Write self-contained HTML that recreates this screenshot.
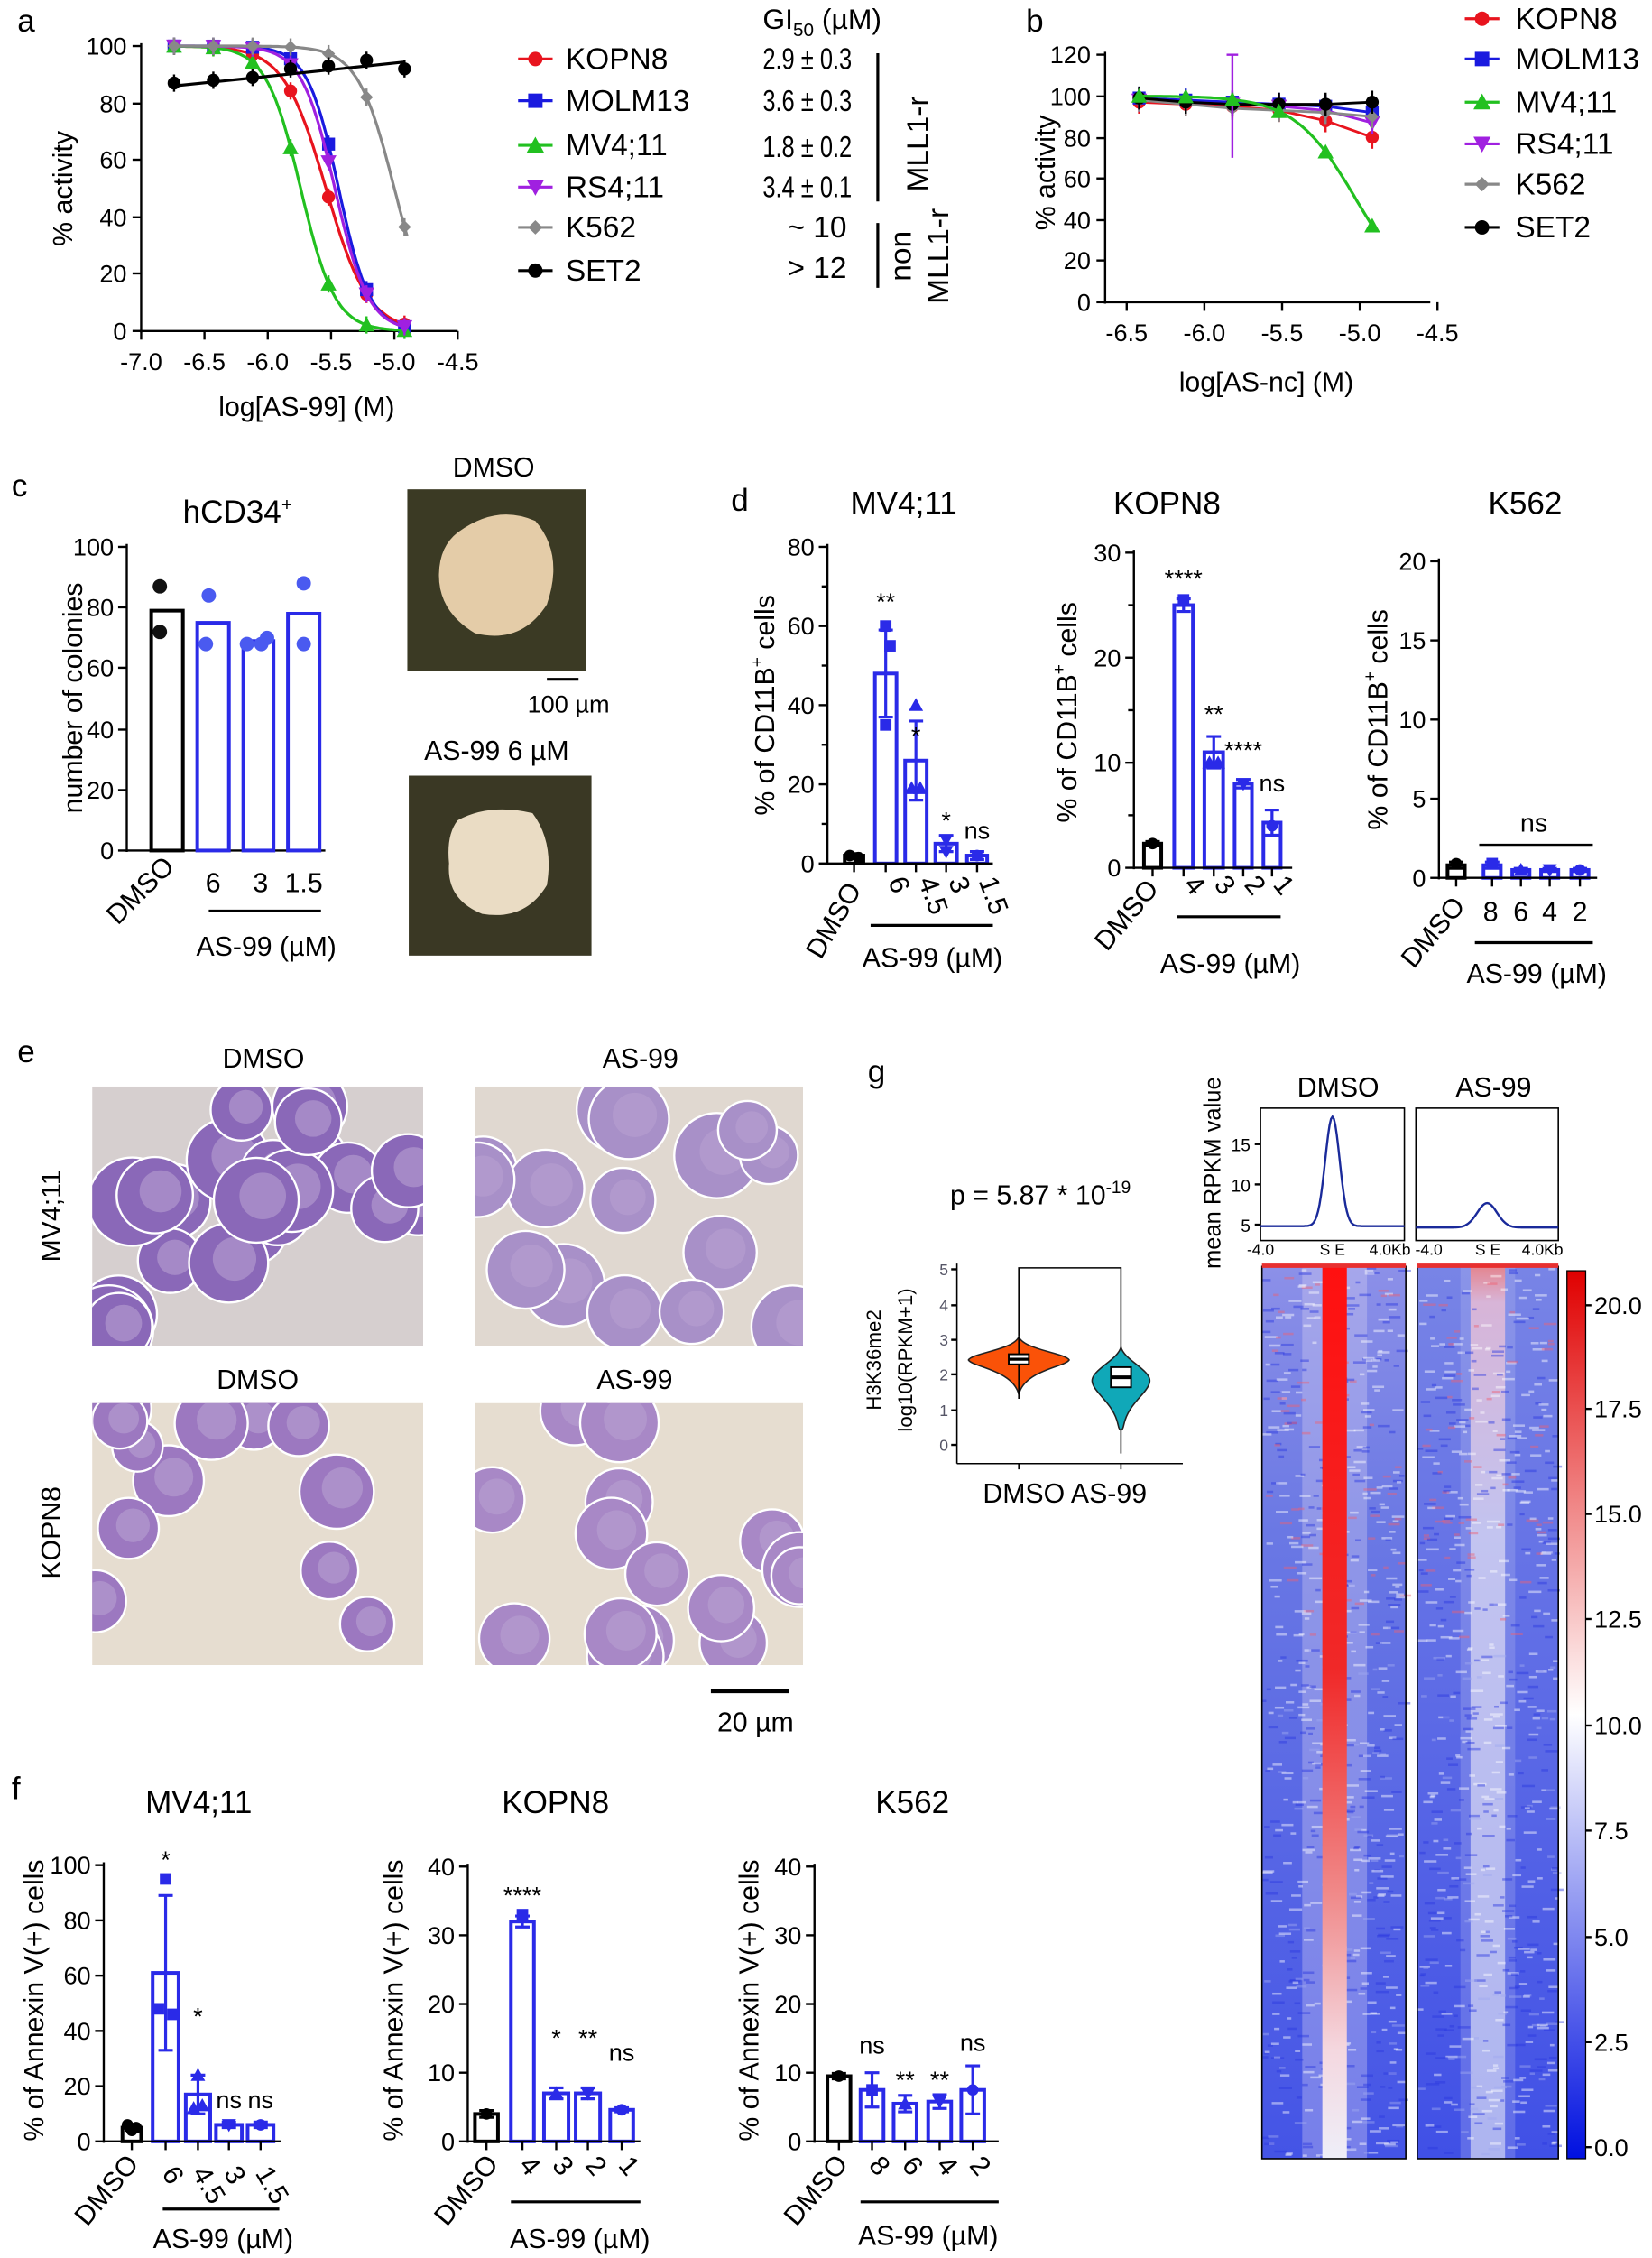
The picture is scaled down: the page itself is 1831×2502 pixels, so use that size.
<!DOCTYPE html>
<html><head><meta charset="utf-8"><style>
html,body{margin:0;padding:0;background:#fff;width:1831px;height:2502px;overflow:hidden}
svg{display:block}
text{font-family:"Liberation Sans",Arial,sans-serif}
</style></head><body>
<svg id="s" xmlns="http://www.w3.org/2000/svg" width="1831" height="2502" viewBox="0 0 1148 1569">
<defs>
<linearGradient id="hm1" x1="0" y1="0" x2="0" y2="1">
<stop offset="0" stop-color="#ff1010"/><stop offset="0.45" stop-color="#f02828"/><stop offset="0.7" stop-color="#f08888"/><stop offset="0.88" stop-color="#f4d8e0"/><stop offset="1" stop-color="#eeeef8"/></linearGradient>
<linearGradient id="bg1" x1="0" y1="0" x2="0" y2="1">
<stop offset="0" stop-color="#8c90e8"/><stop offset="0.3" stop-color="#6a78e4"/><stop offset="1" stop-color="#4454e6"/></linearGradient>
<linearGradient id="bg2" x1="0" y1="0" x2="0" y2="1">
<stop offset="0" stop-color="#7884e6"/><stop offset="1" stop-color="#4050e6"/></linearGradient>
<linearGradient id="hm2" x1="0" y1="0" x2="0" y2="1">
<stop offset="0" stop-color="#f07070"/><stop offset="0.04" stop-color="#e0b0d0"/><stop offset="0.3" stop-color="#c4c4f0"/><stop offset="1" stop-color="#a8b0f0"/></linearGradient>
<linearGradient id="cb" x1="0" y1="0" x2="0" y2="1">
<stop offset="0" stop-color="#e00000"/><stop offset="0.5" stop-color="#ffffff"/><stop offset="1" stop-color="#0010e0"/></linearGradient>
</defs>
</svg>
<script>
var o='';
function T(x,y,s,sz,anc,rot,fill,extra){o+='<text x="'+x+'" y="'+y+'" font-size="'+(sz||18)+'" text-anchor="'+(anc||'start')+'"'+(rot?' transform="rotate('+rot+' '+x+' '+y+')"':'')+' fill="'+(fill||'#000')+'"'+(extra||'')+'>'+s+'</text>';}
function L(x1,y1,x2,y2,c,w){o+='<line x1="'+x1+'" y1="'+y1+'" x2="'+x2+'" y2="'+y2+'" stroke="'+(c||'#000')+'" stroke-width="'+(w||1.5)+'"/>';}
function R(x,y,w,h,f,s,sw){o+='<rect x="'+x+'" y="'+y+'" width="'+w+'" height="'+h+'" fill="'+(f||'none')+'"'+(s?' stroke="'+s+'" stroke-width="'+(sw||1.5)+'"':'')+'/>';}
function C(x,y,r,f){o+='<circle cx="'+x+'" cy="'+y+'" r="'+r+'" fill="'+f+'"/>';}
function M(t,x,y,c,s){s=s||5;
 if(t=='o')C(x,y,s,c);
 else if(t=='s')R(x-s,y-s,2*s,2*s,c);
 else if(t=='^')o+='<polygon points="'+x+','+(y-s-1)+' '+(x-s-1)+','+(y+s)+' '+(x+s+1)+','+(y+s)+'" fill="'+c+'"/>';
 else if(t=='v')o+='<polygon points="'+x+','+(y+s+1)+' '+(x-s-1)+','+(y-s)+' '+(x+s+1)+','+(y-s)+'" fill="'+c+'"/>';
 else if(t=='d')o+='<polygon points="'+x+','+(y-s)+' '+(x-s)+','+y+' '+x+','+(y+s)+' '+(x+s)+','+y+'" fill="'+c+'"/>';}
function P(d,c,w){o+='<path d="'+d+'" fill="none" stroke="'+c+'" stroke-width="'+(w||2)+'"/>';}
var RED='#e8141e',BLU='#1a1adf',GRN='#22c020',PUR='#a020e0',GRY='#888',BLK='#000',B2='#2a2ae8';
var xs=[-6.74,-6.43,-6.12,-5.82,-5.52,-5.22,-4.92];
function sig(x,ic,h){return 100/(1+Math.pow(10,h*(x-ic)));}
var seed=7;function rnd(){seed=(seed*9301+49297)%233280;return seed/233280;}
// Panel a
T(12,22,'a',22);
L(98,30,98,231);L(97,230,318,230);
[[100,32],[80,72],[60,111],[40,151],[20,190],[0,230]].forEach(function(t){L(92,t[1],98,t[1]);T(88,t[1]+6,t[0],17,'end');});
[-7.0,-6.5,-6.0,-5.5,-5.0,-4.5].forEach(function(v,i){var x=98+i*44;L(x,230,x,236);T(x,257,v.toFixed(1),17,'middle');});
T(213,289,'log[AS-99] (M)',19,'middle');T(50,131,'% activity',19,'middle',-90);
function ax(x){return 98+(x+7)*88;} function ay(y){return 230-y*1.98;}
var cur=[[RED,'o',-5.54,2.6],[BLU,'s',-5.44,3.5],[GRN,'^',-5.74,3.2],[PUR,'v',-5.47,3.3],[GRY,'d',-5.0,3]];
cur.forEach(function(c){var d='';for(var x=-6.74;x<=-4.9;x+=0.02){d+=(d?'L':'M')+ax(x).toFixed(1)+','+ay(sig(x,c[2],c[3])).toFixed(1);}P(d,c[0],2);
 xs.forEach(function(x){var y=sig(x,c[2],c[3]);M(c[1],ax(x),ay(y),c[0],4.5);L(ax(x),ay(y)-6,ax(x),ay(y)+6,c[0],1.5);});});
var set2=[87,88,89,92,93,95,92];var d='';xs.forEach(function(x,i){d+=(i?'L':'M')+ax(x)+','+ay(86+i*1.4);});P(d,BLK,2);
xs.forEach(function(x,i){M('o',ax(x),ay(set2[i]),BLK,4.5);L(ax(x),ay(set2[i])-6,ax(x),ay(set2[i])+6,BLK);});
var lg=[['KOPN8',RED,'o',48],['MOLM13',BLU,'s',77],['MV4;11',GRN,'^',108],['RS4;11',PUR,'v',137],['K562',GRY,'d',165],['SET2',BLK,'o',195]];
lg.forEach(function(l){L(360,l[3]-7,384,l[3]-7,l[1],2);M(l[2],372,l[3]-7,l[1],5);T(393,l[3],l[0],21);});
T(530,20,'GI<tspan font-size="13" dy="5">50</tspan><tspan dy="-5"> (µM)</tspan>',20,'start');
[['2.9 ± 0.3',48,530],['3.6 ± 0.3',77,530],['1.8 ± 0.2',109,530],['3.4 ± 0.1',137,530]].forEach(function(v){T(v[2],v[1],v[0],21,'start',0,'#000',' textLength="62" lengthAdjust="spacingAndGlyphs"');});
T(547,165,'~ 10',21);T(547,193,'&gt; 12',21);
L(610,37,610,140,BLK,2);T(645,100,'MLL1-r',21,'middle',-90);L(610,155,610,200,BLK,2);T(633,178,'non',21,'middle',-90);T(659,178,'MLL1-r',21,'middle',-90);
// Panel b
T(713,22,'b',22);
L(768,36,768,211);L(767,210,994,210);
[[120,38],[100,67],[80,96],[60,124],[40,153],[20,181],[0,210]].forEach(function(t){L(762,t[1],768,t[1]);T(758,t[1]+6,t[0],17,'end');});
function bx(x){return 783+(x+6.5)*108;} function by(y){return 210-y*1.433;}
[-6.5,-6.0,-5.5,-5.0,-4.5].forEach(function(v){var x=bx(v);L(x,210,x,216);T(x,237,v.toFixed(1),17,'middle');});
T(880,272,'log[AS-nc] (M)',19,'middle');T(733,120,'% activity',19,'middle',-90);
var xb=[-6.42,-6.12,-5.82,-5.52,-5.22,-4.92];
var bd=[[RED,'o',[97,96,95,93,88,80]],[BLU,'s',[99,98,97,96,95,92]],[PUR,'v',[98,97,96,95,93,87]],[GRY,'d',[98,96,94,93,92,90]],[BLK,'o',[99,97,96,96,96,97]]];
bd.forEach(function(c){var d='';xb.forEach(function(x,i){d+=(i?'L':'M')+bx(x)+','+by(c[2][i]);});P(d,c[0],1.8);xb.forEach(function(x,i){M(c[1],bx(x),by(c[2][i]),c[0],4.5);L(bx(x),by(c[2][i])-8,bx(x),by(c[2][i])+8,c[0]);});});
L(bx(-5.82),by(120),bx(-5.82),by(70),PUR,1.5);L(bx(-5.82)-4,by(120),bx(-5.82)+4,by(120),PUR);
d='';for(var x=-6.42;x<=-4.9;x+=0.02){d+=(d?'L':'M')+bx(x).toFixed(1)+','+by(sig(x,-5.025,2.2)).toFixed(1);}P(d,GRN,2);
xb.forEach(function(x){M('^',bx(x),by(sig(x,-5.025,2.2)),GRN,4.5);});
var lgb=[['KOPN8',RED,'o',20],['MOLM13',BLU,'s',48],['MV4;11',GRN,'^',78],['RS4;11',PUR,'v',107],['K562',GRY,'d',135],['SET2',BLK,'o',165]];
lgb.forEach(function(l){L(1018,l[3]-7,1042,l[3]-7,l[1],2);M(l[2],1030,l[3]-7,l[1],5);T(1053,l[3],l[0],21);});
// Bar chart helper
function bars(cfg){var a=cfg.ax,y0=cfg.y0,yt=cfg.yt,vm=cfg.vm;L(a,yt-2,a,y0+1);
 cfg.ticks.forEach(function(v){var y=y0-(v/vm)*(y0-yt);L(a-6,y,a,y);T(a-9,y+6,v,17,'end');});
 if(cfg.minor)cfg.minor.forEach(function(v){var y=y0-(v/vm)*(y0-yt);L(a-4,y,a,y);});
 cfg.b.forEach(function(b){var col=b[3]||B2;var yv=y0-(b[2]/vm)*(y0-yt);R(b[0],yv,b[1]-b[0],y0-yv,'#fff',col,2.5);
  var cx=(b[0]+b[1])/2;if(b[4]){var e=b[4]/vm*(y0-yt);L(cx,yv-e,cx,Math.min(y0,yv+e),col,2);L(cx-5,yv-e,cx+5,yv-e,col,2);L(cx-5,Math.min(y0,yv+e),cx+5,Math.min(y0,yv+e),col,2);}
  if(b[5])b[5].forEach(function(p){M(b[6]||'o',cx+p[0],y0-(p[1]/vm)*(y0-yt),col,4);});
  if(b[7])T(cx,b[7][1],b[7][0],17,'middle');
  L(cx,y0,cx,y0+6,BLK,1.5);
 });
 L(a,y0,cfg.xe,y0,BLK,1.5);}
// Panel c
T(8,345,'c',22);T(165,363,'hCD34<tspan font-size="13" dy="-8">+</tspan>',22,'middle');
L(88,378,88,592);[[100,380],[80,422],[60,464],[40,507],[20,549],[0,591]].forEach(function(t){L(82,t[1],88,t[1]);T(79,t[1]+6,t[0],17,'end');});
L(88,591,226,591);
function cy(v){return 591-v*2.11;}
[[105,127,79,BLK,[[-5,87],[-5,72]]],[137,159,75,B2,[[-3,84],[-5,68]]],[169,190,69,B2,[[-8,68],[2,68],[6,70]]],[200,222,78,B2,[[0,88],[0,68]]]].forEach(function(b){R(b[0],cy(b[2]),b[1]-b[0],591-cy(b[2]),'none',b[3],2.5);b[4].forEach(function(p){C((b[0]+b[1])/2+p[0],cy(p[1]),5,b[3]==BLK?'#111':'#4a5af0');});});
T(122,603,'DMSO',19,'end',-45);T(148,620,'6',19,'middle');T(181,620,'3',19,'middle');T(211,620,'1.5',19,'middle');
L(145,633,223,633,BLK,2);T(185,664,'AS-99 (µM)',19,'middle');T(57,485,'number of colonies',19,'middle',-90);
T(343,331,'DMSO',19,'middle');R(283,340,124,126,'#3b3a24');o+='<path d="M318,370 Q345,350 372,362 Q392,385 380,420 Q362,448 330,440 Q305,425 305,400 Q305,380 318,370Z" fill="#e4cca8"/>';
L(380,472,402,472,BLK,2);T(395,495,'100 µm',17,'middle');
T(345,528,'AS-99 6 µM',19,'middle');R(284,539,127,125,'#3a3824');o+='<path d="M318,570 Q340,558 370,565 Q385,585 380,615 Q365,640 335,635 Q310,625 312,600 Q310,580 318,570Z" fill="#eadcc4"/>';
// Panel d
T(508,355,'d',22);T(628,357,'MV4;11',22,'middle');T(811,357,'KOPN8',22,'middle');T(1060,357,'K562',22,'middle');
bars({ax:575,y0:600,yt:380,vm:80,ticks:[0,20,40,60,80],minor:[10,30,50,70],xe:690,b:[[587,600,2,BLK,0.5,[[-3,2],[3,1.5]]],[608,623,48,B2,11,[[0,60],[0,35],[3,55]],'s',['**',424]],[629,644,26,B2,10,[[0,40],[-3,19],[3,19]],'^',['*',517]],[650,665,5,B2,2,[[0,6],[0,3]],'v',['*',576]],[672,686,2,B2,1,[[0,2]],'o',['ns',583]]]});
T(538,490,'% of CD11B<tspan font-size="12" dy="-8">+</tspan><tspan dy="8"> cells</tspan>',19,'middle',-90);
T(599,618,'DMSO',19,'end',-60);T(617,612,'6',19,'start',70);T(638,612,'4.5',19,'start',70);T(659,612,'3',19,'start',70);T(680,612,'1.5',19,'start',70);
L(605,643,690,643,BLK,2);T(648,672,'AS-99 (µM)',19,'middle');
bars({ax:788,y0:603,yt:384,vm:30,ticks:[0,10,20,30],minor:[5,15,25],xe:898,b:[[795,807,2.3,BLK,0.2,[[0,2.3]]],[816,829,25,B2,0.6,[[0,25.5]],'s',['****',408]],[837,850,11,B2,1.5,[[-3,10],[3,10]],'^',['**',502]],[858,870,8,B2,0.4,[[0,8]],'v',['****',527]],[878,890,4.3,B2,1.2,[[0,4]],'o',['ns',550]]]});
T(748,495,'% of CD11B<tspan font-size="12" dy="-8">+</tspan><tspan dy="8"> cells</tspan>',19,'middle',-90);
T(806,618,'DMSO',19,'end',-50);T(822,615,'4',19,'start',50);T(843,615,'3',19,'start',50);T(864,615,'2',19,'start',50);T(884,615,'1',19,'start',50);
L(818,637,890,637,BLK,2);T(855,676,'AS-99 (µM)',19,'middle');
bars({ax:1000,y0:610,yt:390,vm:20,ticks:[0,5,10,15,20],xe:1110,b:[[1006,1018,0.8,BLK,0.2,[[0,0.9]]],[1031,1043,0.8,B2,0.2,[[0,0.9]],'s'],[1051,1063,0.5,B2,0.1,[[0,0.5]],'^'],[1071,1083,0.5,B2,0.1,[[0,0.5]],'v'],[1092,1104,0.5,B2,0.1,[[0,0.5]]]]});
L(1028,587,1107,587,BLK,1.5);T(1066,578,'ns',18,'middle');
T(964,500,'% of CD11B<tspan font-size="12" dy="-8">+</tspan><tspan dy="8"> cells</tspan>',19,'middle',-90);
T(1019,630,'DMSO',19,'end',-50);T(1036,640,'8',19,'middle');T(1057,640,'6',19,'middle');T(1077,640,'4',19,'middle');T(1098,640,'2',19,'middle');
L(1025,655,1107,655,BLK,2);T(1068,683,'AS-99 (µM)',19,'middle');
// Panel e
T(12,738,'e',22);T(183,742,'DMSO',19,'middle');T(445,742,'AS-99',19,'middle');T(179,965,'DMSO',19,'middle');T(441,965,'AS-99',19,'middle');
T(42,845,'MV4;11',19,'middle',-90);T(42,1065,'KOPN8',19,'middle',-90);
function micro(x,y,w,h,n,r,col,bg){R(x,y,w,h,bg);o+='<svg x="'+x+'" y="'+y+'" width="'+w+'" height="'+h+'">';for(var i=0;i<n;i++){var cx=rnd()*w,cy=rnd()*h,rr=r*(0.8+rnd()*0.4);o+='<circle cx="'+cx.toFixed(1)+'" cy="'+cy.toFixed(1)+'" r="'+rr.toFixed(1)+'" fill="'+col+'" stroke="#fff" stroke-width="1.5"/>';o+='<circle cx="'+(cx+rr*0.15).toFixed(1)+'" cy="'+(cy-rr*0.1).toFixed(1)+'" r="'+(rr*0.55).toFixed(1)+'" fill="#b8a0d0" opacity="0.6"/>';}o+='</svg>';}
micro(64,755,230,180,22,26,'#8a68b8','#d6cfcf');micro(330,755,228,180,16,25,'#a890c8','#e0d8d0');
micro(64,975,230,182,13,22,'#9c78c0','#e6ddd0');micro(330,975,228,182,15,23,'#a888c6','#e6ddd0');
L(494,1175,548,1175,BLK,3);T(525,1203,'20 µm',19,'middle');
// Panel g
T(603,752,'g',22);T(723,837,'p = 5.87 * 10<tspan font-size="12" dy="-8">-19</tspan>',19,'middle');
L(665,878,665,1017,BLK,1);L(665,1017,822,1017,BLK,1);
[[5,882],[4,907],[3,931],[2,955],[1,980],[0,1004]].forEach(function(t){L(661,t[1],665,t[1]);T(659,t[1]+4,t[0],11,'end','', '#556');});
L(708,1017,708,1021,BLK,1);L(779,1017,779,1021,BLK,1);
P('M708,929 L708,881 L779,881 L779,938',BLK,1);
L(779,993,779,1010,BLK,1);
o+='<path d="M708,929 C712,938 740,940 743,945 C740,950 712,952 708,969 C704,952 676,950 673,945 C676,940 704,938 708,929Z" fill="#fa5208" stroke="#222" stroke-width="1"/>';
L(708,929,708,972,BLK,1);R(701,941,14,7,'#fff','#000',1.2);L(701,944.5,715,944.5,BLK,2);
o+='<path d="M779,936 C781,945 800,952 799,960 C798,968 784,975 781,990 C780,995 778,995 777,990 C774,975 760,968 759,960 C758,952 777,945 779,936Z" fill="#10a8b8" stroke="#222" stroke-width="1"/>';
R(772,950,14,14,'#fff','#000',1.2);L(772,957,786,957,BLK,2.5);
T(740,1044,'DMSO AS-99',19,'middle');T(612,945,'H3K36me2',14,'middle',-90);T(634,945,'log10(RPKM+1)',14,'middle',-90);
T(848,815,'mean RPKM value',16,'middle',-90);T(930,762,'DMSO',19,'middle');T(1038,762,'AS-99',19,'middle');
R(876,770,100,92,'#fff','#000',1);R(984,770,99,92,'#fff','#000',1);
[[15,795],[10,823],[5,851]].forEach(function(t){L(872,t[1],876,t[1]);T(869,t[1]+5,t[0],12,'end');});
var dp='',dp2='';for(var i=0;i<=100;i++){var x=876+i,u=(i-50)/5;var v=852-76*Math.exp(-u*u/2);dp+=(i?'L':'M')+x+','+v.toFixed(1);var u2=(i-50)/7;dp2+=(i?'L':'M')+(984+i*0.99).toFixed(1)+','+(853-17*Math.exp(-u2*u2/2)).toFixed(1);}P(dp,'#1a2a9a',1.5);P(dp2,'#1a2a9a',1.5);
T(876,872,'-4.0',11,'middle');T(926,872,'S E',11,'middle');T(966,872,'4.0Kb',11,'middle');T(993,872,'-4.0',11,'middle');T(1034,872,'S E',11,'middle');T(1072,872,'4.0Kb',11,'middle');
// heatmaps
R(877,880,100,620,'url(#bg1)');
o+='<rect x="905" y="880" width="45" height="620" fill="#d8d0f0" opacity="0.35"/>';
R(985,880,98,620,'url(#bg2)');
R(1022,880,24,620,'url(#hm2)');
o+='<rect x="1015" y="880" width="38" height="620" fill="#c0c4f0" opacity="0.25"/>';
// texture
var tx='';for(var i=0;i<1400;i++){var hx=rnd()<0.5?877:985;var xx=hx+rnd()*96,yy=880+rnd()*618;var c=rnd();var col=c<0.45?'#ffffff':(c<0.8?'#2a38e0':(yy<1150?'#f06070':'#a0a8f0'));tx+='<rect x="'+xx.toFixed(1)+'" y="'+yy.toFixed(1)+'" width="'+(3+rnd()*6).toFixed(1)+'" height="1.6" fill="'+col+'" opacity="0.45"/>';}o+=tx;
R(919,880,17,620,'url(#hm1)');
R(877,880,100,620,'none','#000',1);R(985,880,98,620,'none','#000',1);
R(877,878,100,3,'#e83030');R(985,878,98,3,'#e83030');
R(1089,883,13,617,'url(#cb)','#000',0.8);
[['20.0',913],['17.5',985],['15.0',1058],['12.5',1131],['10.0',1205],['7.5',1278],['5.0',1352],['2.5',1425],['0.0',1498]].forEach(function(t){L(1102,t[1]-6,1106,t[1]-6);T(1108,t[1],t[0],17);});
// Panel f
T(8,1250,'f',22);T(138,1260,'MV4;11',22,'middle');T(386,1260,'KOPN8',22,'middle');T(634,1260,'K562',22,'middle');
bars({ax:72,y0:1488,yt:1296,vm:100,ticks:[0,20,40,60,80,100],xe:195,b:[[85,98,5,BLK,1,[[-3,6],[3,5],[0,4]]],[106,124,61,B2,28,[[0,95],[-5,48],[5,46]],'s',['*',1298]],[129,146,17,B2,7,[[0,24],[-3,12],[3,13]],'^',['*',1407]],[150,168,6,B2,1,[[0,6]],'v',['ns',1465]],[172,190,6,B2,1,[[0,6]],'o',['ns',1465]]]});
T(30,1390,'% of Annexin V(+) cells',19,'middle',-90);
T(97,1504,'DMSO',19,'end',-50);T(112,1510,'6',19,'start',60);T(133,1510,'4.5',19,'start',60);T(155,1510,'3',19,'start',60);T(177,1510,'1.5',19,'start',60);
L(113,1535,194,1535,BLK,2);T(155,1562,'AS-99 (µM)',19,'middle');
bars({ax:325,y0:1488,yt:1297,vm:40,ticks:[0,10,20,30,40],xe:445,b:[[330,346,4,BLK,0.5,[[0,4]]],[355,371,32,B2,0.8,[[0,33]],'s',['****',1323]],[378,395,7,B2,0.8,[[0,7]],'^',['*',1422]],[400,417,7,B2,0.8,[[0,7]],'v',['**',1422]],[424,440,4.6,B2,0.3,[[0,4.6]],'o',['ns',1432]]]});
T(280,1390,'% of Annexin V(+) cells',19,'middle',-90);
T(347,1504,'DMSO',19,'end',-50);T(360,1505,'4',19,'start',50);T(383,1505,'3',19,'start',50);T(406,1505,'2',19,'start',50);T(429,1505,'1',19,'start',50);
L(355,1530,445,1530,BLK,2);T(403,1562,'AS-99 (µM)',19,'middle');
bars({ax:566,y0:1488,yt:1297,vm:40,ticks:[0,10,20,30,40],xe:694,b:[[575,591,9.5,BLK,0.4,[[0,9.5]]],[598,614,7.5,B2,2.5,[[0,7.5]],'s',['ns',1427]],[621,637,5.5,B2,1.2,[[0,5.5]],'^',['**',1451]],[645,661,5.8,B2,1,[[0,5.8]],'v',['**',1451]],[668,684,7.5,B2,3.5,[[0,7.5]],'o',['ns',1425]]]});
T(527,1390,'% of Annexin V(+) cells',19,'middle',-90);
T(590,1504,'DMSO',19,'end',-50);T(603,1505,'8',19,'start',50);T(626,1505,'6',19,'start',50);T(650,1505,'4',19,'start',50);T(673,1505,'2',19,'start',50);
L(598,1530,694,1530,BLK,2);T(645,1560,'AS-99 (µM)',19,'middle');
document.getElementById('s').insertAdjacentHTML('beforeend',o);
</script>
</body></html>
